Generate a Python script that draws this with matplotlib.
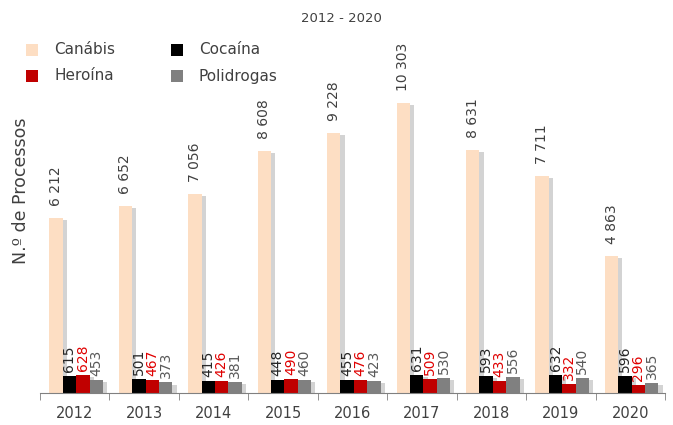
import matplotlib
matplotlib.use("Agg")
import matplotlib.pyplot as plt
import matplotlib.patheffects as pe
from matplotlib.patches import Rectangle
import numpy as np

years = ["2012", "2013", "2014", "2015", "2016", "2017", "2018", "2019", "2020"]
canabis = [6212, 6652, 7056, 8608, 9228, 10303, 8631, 7711, 4863]
cocaina = [615, 501, 415, 448, 455, 631, 593, 632, 596]
heroina = [628, 467, 426, 490, 476, 509, 433, 332, 296]
polidrogas = [453, 373, 381, 460, 423, 530, 556, 540, 365]

series = [
    ("Canábis", canabis, "#FDDEC3", "#404040"),
    ("Cocaína", cocaina, "#000000", "#262626"),
    ("Heroína", heroina, "#C00000", "#E00000"),
    ("Polidrogas", polidrogas, "#808080", "#595959"),
]

plt.rcParams['font.family'] = ['DejaVu Sans']

W, H = 673, 425
fig = plt.figure(figsize=(W/100, H/100), dpi=100)
ax = fig.add_axes([40/W, 1-393/H, 625/W, (393-55)/H])

x = np.arange(len(years))
w = 14/72.5
offsets = [-1.5*w, -0.5*w, 0.5*w, 1.5*w]
shadow = [pe.SimplePatchShadow(offset=(3, -1.5), alpha=0.3, shadow_rgbFace='#707070'), pe.Normal()]

for i, ((name, vals, col, tcol), off) in enumerate(zip(series, offsets)):
    bars = ax.bar(x + off + 0.02, vals, width=w, color=col, label=name, zorder=2)
    for b in bars:
        b.set_path_effects(shadow)
    pad = 12 if i == 0 else 4
    for xi, v in zip(x, vals):
        txt = f"{v:,}".replace(",", " ")
        ax.annotate(txt, (xi + off + 0.02, v), xytext=(0, pad), textcoords='offset pixels',
                    rotation=90, ha='center', va='bottom', fontsize=10, color=tcol)

ax.set_xlim(-0.5, len(years) - 0.5)
ax.set_ylim(0, 12000)
ax.set_xticks(x)
ax.set_xticklabels(years, fontsize=10.5, color='#404040')
ax.tick_params(axis='x', length=0, pad=9)
ax.set_xticks(np.arange(-0.5, len(years), 1), minor=True)
ax.tick_params(axis='x', which='minor', length=5, color='#808080')
ax.set_yticks([])
for s in ['top', 'right', 'left']:
    ax.spines[s].set_visible(False)
ax.spines['bottom'].set_color('#808080')

fig.text(21/W, 1-191/H, "N.º de Processos", rotation=90, ha='center', va='center',
         fontsize=12.5, color='#404040')
fig.text(341/W, 1-18/H, "2012 - 2020", ha='center', va='center', fontsize=9.5, color='#404040')

# legend (manual placement, row-major like the reference)
leg_pos = [(26, 50), (171, 50), (26, 76), (171, 76)]
for (px, py), idx in zip(leg_pos, range(len(series))):
    name, _, col, _ = series[idx]
    fig.patches.append(Rectangle((px/W, 1-(py+6)/H), 12/W, 12/H, transform=fig.transFigure,
                                 facecolor=col, edgecolor='none'))
    fig.text((px+28)/W, 1-py/H, name, ha='left', va='center', fontsize=11, color='#404040')

fig.savefig("out.png", dpi=100)
